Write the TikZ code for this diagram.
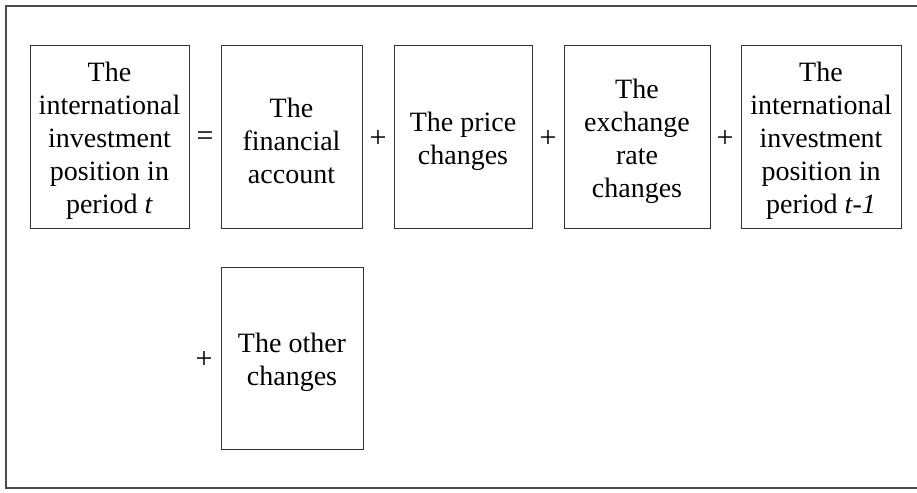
\documentclass[tikz,border=0pt]{standalone}
\usepackage{fontspec}
\setmainfont{Liberation Serif}
\begin{document}
\begin{tikzpicture}[x=1pt,y=-1pt,
  termbox/.style={draw=black!80,line width=1pt,inner sep=0pt,minimum height=182pt},
  termtext/.style={align=center,inner sep=0pt,font=\fontsize{28}{33}\selectfont},
  op/.style={font=\fontsize{30}{34}\selectfont,inner sep=0pt}]
\useasboundingbox (0,0) rectangle (917,492);
\draw[black!70,line width=1.2pt] (920,6) -- (6,6) -- (6,488) -- (920,488);
\node[termbox,minimum width=159pt] (b1) at (109.5,137) {};
\node[termbox,minimum width=141pt] (b2) at (291.5,137) {};
\node[termbox,minimum width=138pt] (b3) at (463,137) {};
\node[termbox,minimum width=146pt] (b4) at (637,137) {};
\node[termbox,minimum width=160pt] (b5) at (821,137) {};
\node[termbox,minimum width=142pt] (b6) at (292,358) {};
\node[termtext] (t1) at ([yshift=-4pt]b1.center) {The\\international\\investment\\position in\\period \textit{t}};
\node[termtext] (t2) at ([yshift=-4pt]b2.center) {The\\financial\\account};
\node[termtext] (t3) at ([yshift=-4pt]b3.center) {The price\\changes};
\node[termtext] (t4) at ([yshift=-4pt]b4.center) {The\\exchange\\rate\\changes};
\node[termtext] (t5) at ([yshift=-4pt]b5.center) {The\\international\\investment\\position in\\period \textit{t-1}};
\node[termtext] (t6) at ([yshift=-4pt]b6.center) {The other\\changes};
\node[op] (e1) at (205,139) {=};
\node[op] (p1) at (378,139) {+};
\node[op] (p2) at (548,139) {+};
\node[op] (p3) at (725,139) {+};
\node[op] (p4) at (204,360) {+};
\end{tikzpicture}
\end{document}
